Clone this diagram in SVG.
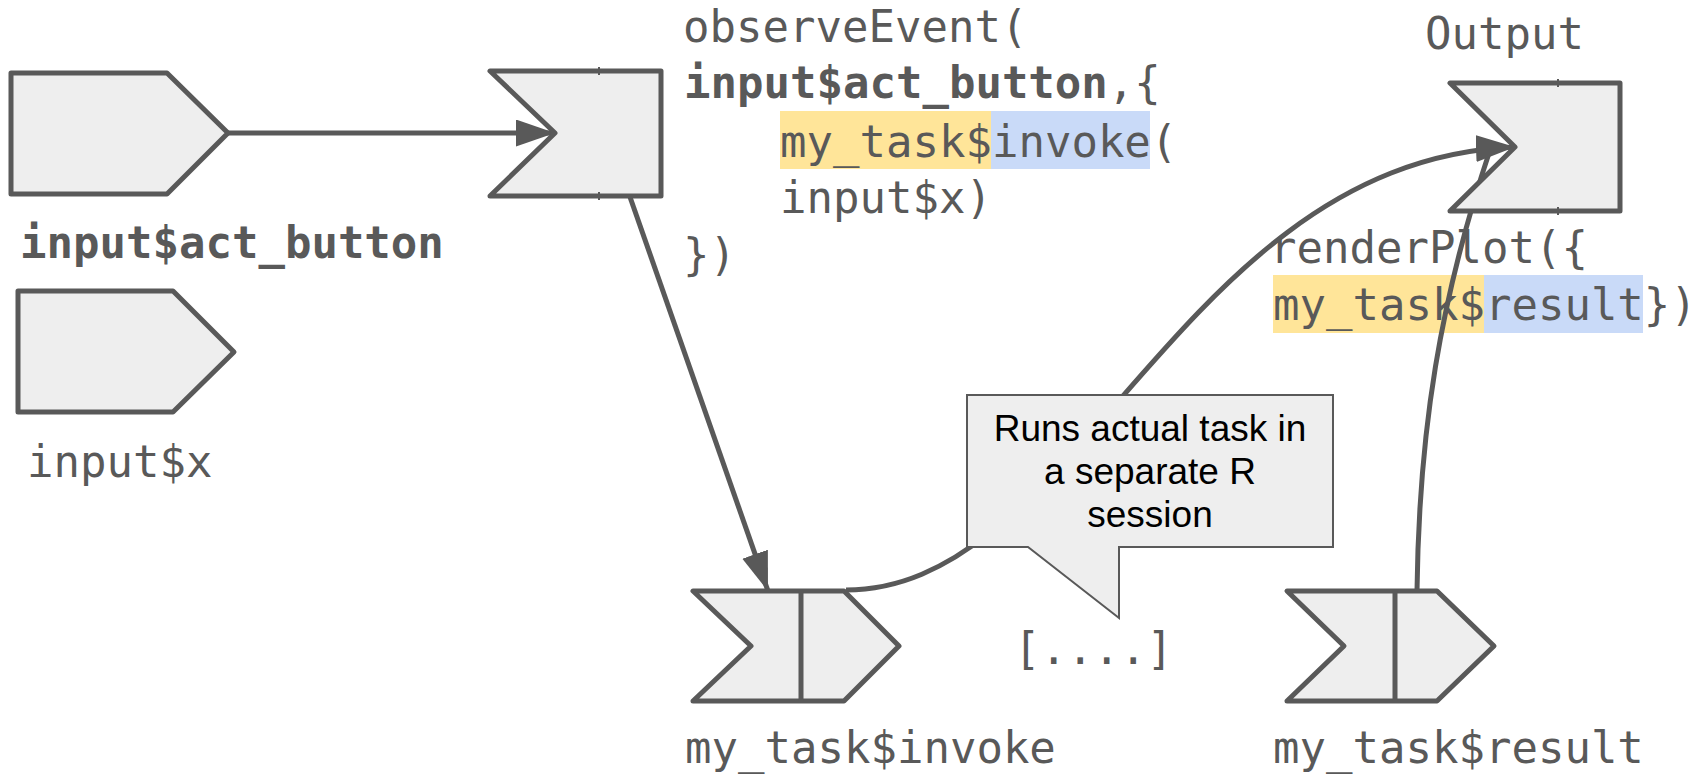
<svg xmlns="http://www.w3.org/2000/svg" width="1694" height="776" viewBox="0 0 1694 776">
  <defs>
    <style>
      .node { fill: #eeeeee; stroke: #595959; stroke-width: 5; stroke-linejoin: round; }
      .div { stroke: #595959; stroke-width: 5; }
      .tick { stroke: #595959; stroke-width: 2; }
      .wire { fill: none; stroke: #595959; stroke-width: 5; }
      .code { font-family: "DejaVu Sans Mono", "Liberation Mono", monospace; font-size: 44px; fill: #595959; }
      .bold { font-weight: bold; }
      .plain { font-weight: normal; }
      .note { font-family: "Liberation Sans", Arial, sans-serif; font-size: 37px; fill: #000000; text-anchor: middle; }
      .callout { fill: #eeeeee; stroke: #595959; stroke-width: 2; stroke-linejoin: miter; }
      .hl-obj { fill: #ffe599; }
      .hl-fn { fill: #c9daf8; }
    </style>
    <marker id="arrow" markerUnits="userSpaceOnUse" viewBox="0 0 40 28" markerWidth="40" markerHeight="28" refX="39" refY="13.5" orient="auto">
      <path d="M0,0 L39,13.5 L0,27 Z" fill="#595959"/>
    </marker>
  </defs>

  <!-- code annotations -->
  <g id="observe-code">
    <rect class="hl-obj" x="780" y="111" width="211" height="58"/>
    <rect class="hl-fn" x="991" y="111" width="159" height="58"/>
    <text class="code" x="683" y="42">observeEvent(</text>
    <text class="code bold" x="684" y="98">input$act_button<tspan class="plain">,{</tspan></text>
    <text class="code" x="780" y="157">my_task$invoke(</text>
    <text class="code" x="780" y="213">input$x)</text>
    <text class="code" x="683" y="270">})</text>
  </g>

  <g id="render-code">
    <rect class="hl-obj" x="1273" y="275" width="211" height="58"/>
    <rect class="hl-fn" x="1484" y="275" width="159" height="58"/>
    <text class="code" x="1270" y="263">renderPlot({</text>
    <text class="code" x="1273" y="320">my_task$result})</text>
  </g>

  <g id="labels">
    <text class="code bold" x="20" y="258">input$act_button</text>
    <text class="code" x="27" y="477">input$x</text>
    <text class="code" x="1425" y="49">Output</text>
    <text class="code" x="685" y="763">my_task$invoke</text>
    <text class="code" x="1273" y="763">my_task$result</text>
    <text class="code" x="1014" y="664">[....]</text>
  </g>

  <!-- connectors -->
  <g id="connectors">
    <path class="wire" d="M228,133 L555,133" marker-end="url(#arrow)"/>
    <path class="wire" d="M630,197 L768,591" marker-end="url(#arrow)"/>
    <path class="wire" d="M1417,591 C1419,430 1440,300 1490,150"/>
    <path class="wire" d="M846,590 C1080,590 1180,160 1515,147" marker-end="url(#arrow)"/>
  </g>

  <!-- nodes -->
  <g id="input-act-button">
    <path class="node" d="M11,73 L167,73 L228,133 L167,194 L11,194 Z"/>
  </g>

  <g id="input-x">
    <path class="node" d="M18,291 L173,291 L234,352 L173,412 L18,412 Z"/>
  </g>

  <g id="observe-event">
    <path class="node" d="M490,71 L661,71 L661,196 L490,196 L555,133 Z"/>
    <line class="tick" x1="599" y1="67" x2="599" y2="75"/>
    <line class="tick" x1="599" y1="192" x2="599" y2="200"/>
  </g>

  <g id="output">
    <path class="node" d="M1450,83 L1620,83 L1620,211 L1450,211 L1515,147 Z"/>
    <line class="tick" x1="1558" y1="79" x2="1558" y2="87"/>
    <line class="tick" x1="1558" y1="207" x2="1558" y2="215"/>
  </g>

  <g id="task-invoke">
    <path class="node" d="M693,591 L844,591 L899,646 L844,701 L693,701 L751,646 Z"/>
    <line class="div" x1="801" y1="591" x2="801" y2="701"/>
  </g>

  <g id="task-result">
    <path class="node" d="M1287,591 L1437,591 L1494,646 L1437,701 L1287,701 L1344,646 Z"/>
    <line class="div" x1="1395" y1="591" x2="1395" y2="701"/>
  </g>

  <g id="session-note">
    <path class="callout" d="M967,395 L1333,395 L1333,547 L1119,547 L1119,618 L1028,547 L967,547 Z"/>
    <text class="note" x="1150" y="441">Runs actual task in</text>
    <text class="note" x="1150" y="484">a separate R</text>
    <text class="note" x="1150" y="527">session</text>
  </g>
</svg>
